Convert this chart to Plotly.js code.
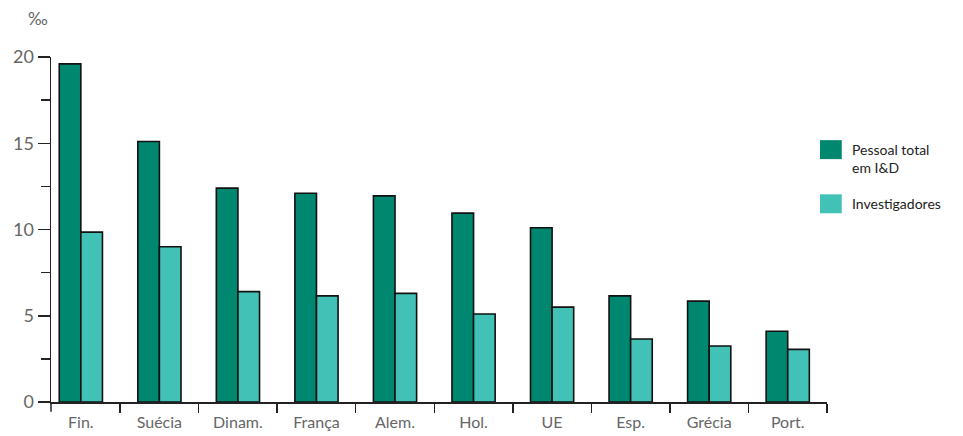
<!DOCTYPE html>
<html>
<head>
<meta charset="utf-8">
<script src="https://cdn.plot.ly/plotly-3.0.1.min.js"></script>
<style>html,body{margin:0;padding:0;background:#fff;}#chart{width:963px;height:436px;}</style>
</head>
<body>
<div id="chart"></div>
<script>
const categories = ["Fin.", "Suécia", "Dinam.", "França", "Alem.", "Hol.", "UE", "Esp.", "Grécia", "Port."];
const seriesNames = ["Pessoal total<br>em I&D", "Investigadores"];
const pessoalTotal = [19.6, 15.1, 12.4, 12.1, 11.95, 10.95, 10.1, 6.15, 5.85, 4.1];
const investigadores = [9.85, 9.0, 6.4, 6.15, 6.3, 5.1, 5.5, 3.65, 3.25, 3.05];
const yTickVals = [0, 5, 10, 15, 20];

const darkColor = "#00876f";
const lightColor = "#42c2b6";

const traces = [
  {type: "bar", x: categories, y: pessoalTotal, name: seriesNames[0],
   marker: {color: darkColor, line: {color: "#111", width: 1.6}}, showlegend: false},
  {type: "bar", x: categories, y: investigadores, name: seriesNames[1],
   marker: {color: lightColor, line: {color: "#111", width: 1.6}}, showlegend: false}
];

const layout = {
  width: 963, height: 436,
  margin: {l: 51, r: 136, t: 57, b: 34},
  paper_bgcolor: "#fff", plot_bgcolor: "#fff",
  barmode: "group", bargap: 0.45, bargroupgap: 0,
  font: {family: "Lato, 'Open Sans', sans-serif", color: "#666"},
  xaxis: {
    type: "category", showgrid: false, zeroline: false,
    showline: true, linecolor: "#222", linewidth: 1.5,
    ticks: "outside", ticklen: 9, tickwidth: 1.5, tickcolor: "#222",
    tickson: "boundaries", ticklabelstandoff: 5,
    tickfont: {size: 16, color: "#666"},
    range: [-0.38, 9.5]
  },
  yaxis: {
    range: [0, 20], showgrid: false, zeroline: false,
    showline: true, linecolor: "#222", linewidth: 1.5,
    tickvals: yTickVals, ticks: "outside", ticklen: 12, tickwidth: 1.5, tickcolor: "#222",
    tickfont: {size: 18, color: "#666"},
    minor: {dtick: 2.5, ticks: "outside", ticklen: 9, tickwidth: 1.5, tickcolor: "#222", showgrid: false}
  },
  annotations: [
    {xref: "paper", yref: "paper", x: -0.017, y: 1.075, xanchor: "center", yanchor: "bottom",
     text: "‰", showarrow: false, font: {size: 17, color: "#666"}},
    {xref: "paper", yref: "paper", x: 1.03, y: 0.705, xanchor: "left", yanchor: "middle",
     text: seriesNames[0], align: "left", showarrow: false, font: {size: 14, color: "#222"}},
    {xref: "paper", yref: "paper", x: 1.03, y: 0.575, xanchor: "left", yanchor: "middle",
     text: seriesNames[1], align: "left", showarrow: false, font: {size: 14, color: "#222"}}
  ],
  shapes: [
    {type: "rect", xref: "paper", yref: "paper", x0: 0.991, x1: 1.019, y0: 0.704, y1: 0.759,
     fillcolor: darkColor, line: {width: 0}},
    {type: "rect", xref: "paper", yref: "paper", x0: 0.991, x1: 1.019, y0: 0.547, y1: 0.602,
     fillcolor: lightColor, line: {width: 0}},
    {type: "line", xref: "paper", yref: "paper", x0: 0, x1: 0, y0: 0, y1: -0.028,
     line: {color: "#222", width: 1.5}}
  ]
};

Plotly.newPlot("chart", traces, layout, {displayModeBar: false, staticPlot: true});
</script>
</body>
</html>
